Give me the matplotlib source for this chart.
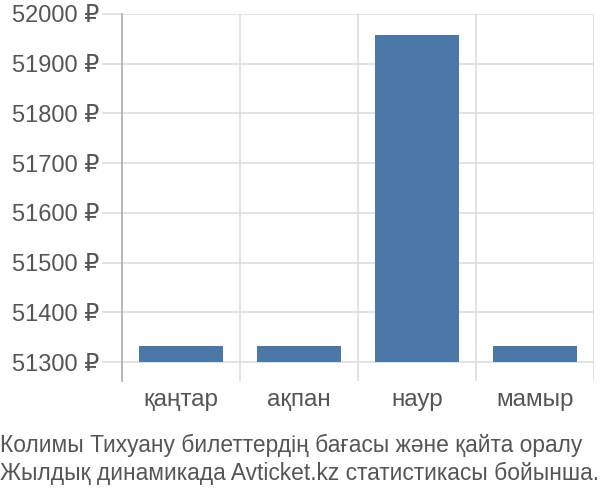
import matplotlib
matplotlib.use("Agg")
import matplotlib.pyplot as plt

plt.rcParams['font.family'] = ['Liberation Sans', 'DejaVu Sans']

# data
months = ["қаңтар", "ақпан", "наур", "мамыр"]
prices = [51333, 51333, 51957, 51333]
yticks = [51300, 51400, 51500, 51600, 51700, 51800, 51900, 52000]
caption = ["Колимы Тихуану билеттердің бағасы және қайта оралу",
           "Жылдық динамикада Avticket.kz статистикасы бойынша."]

fig = plt.figure(figsize=(6, 5), dpi=100)
ax = fig.add_axes([122 / 600, 119 / 500, 472 / 600, 367 / 500])

base = 51300
xs = range(len(months))
ax.bar(xs, [p - base for p in prices], bottom=base, width=0.72,
       color="#4b77a6", zorder=3)

ax.set_xlim(-0.5, len(months) - 0.5)
ax.set_ylim(51262, 52000)
ax.set_yticks(yticks)
ax.set_yticklabels([f"{v} ₽" for v in yticks])
ax.set_xticks(list(xs))
ax.set_xticklabels(months)
ax.set_xticks([0.5, 1.5, 2.5, 3.5], minor=True)

ax.grid(axis="y", color="#dddddd", lw=1.2, zorder=0)
ax.grid(axis="x", which="minor", color="#dddddd", lw=1.2, zorder=0)
ax.tick_params(axis="y", length=14.4, color="#dddddd", width=1.2,
               labelsize=17, labelcolor="#555555", pad=2)
ax.tick_params(axis="x", which="major", length=0, labelsize=17.5,
               labelcolor="#555555", pad=6)
ax.tick_params(axis="x", which="minor", length=0)

for s in ["top", "right", "bottom"]:
    ax.spines[s].set_visible(False)
ax.spines["left"].set_color("#aaaaaa")
ax.spines["left"].set_linewidth(1.2)

fig.text(0, 1 - 445 / 500, caption[0], fontsize=16.4, color="#555555", va="center")
fig.text(0, 1 - 473 / 500, caption[1], fontsize=16.4, color="#555555", va="center")

fig.savefig("out.png", dpi=100)
